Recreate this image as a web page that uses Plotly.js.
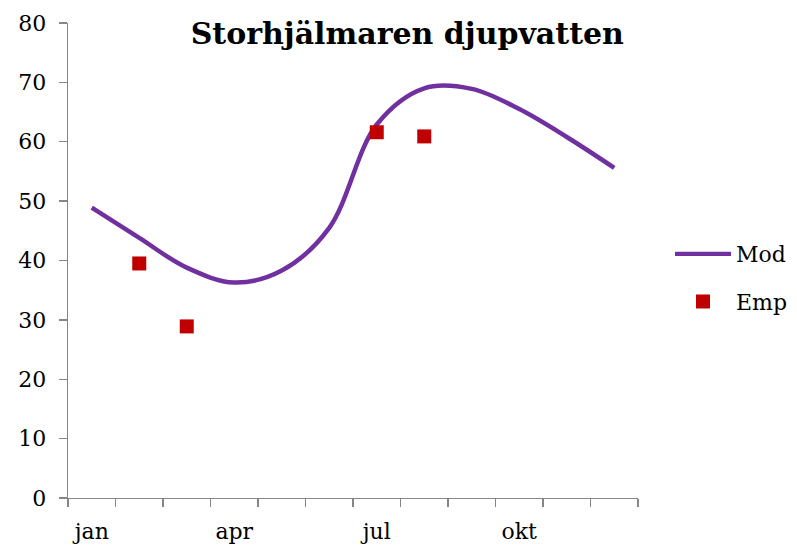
<!DOCTYPE html>
<html>
<head>
<meta charset="utf-8">
<script src="https://cdn.plot.ly/plotly-3.0.1.min.js"></script>
<style>html,body{margin:0;padding:0;background:#fff;}#chart{width:797px;height:552px;}</style>
</head>
<body>
<div id="chart"></div>
<script>
// Data
const months = ['jan','feb','mar','apr','maj','jun','jul','aug','sep','okt','nov','dec'];
const monthIndex = [1,2,3,4,5,6,7,8,9,10,11,12];
const modValues = [48.9, 43.8, 38.8, 36.3, 38.3, 45.5, 62.9, 69.0, 68.9, 65.5, 60.8, 55.6];
const empMonths = [2, 3, 7, 8];
const empValues = [39.5, 28.9, 61.6, 60.9];
const yTicks = [0,10,20,30,40,50,60,70,80];
const labelMonths = [1,4,7,10];

const serif = '"DejaVu Serif", "Liberation Serif", serif';

const traces = [
  {
    x: monthIndex, y: modValues, name: 'Mod', type: 'scatter', mode: 'lines',
    line: {color: '#7030A0', width: 4.5, shape: 'spline', smoothing: 1},
    legendgroup: 'mod', xaxis: 'x', yaxis: 'y'
  },
  {
    x: empMonths, y: empValues, name: 'Emp', type: 'scatter', mode: 'markers',
    marker: {symbol: 'square', color: '#C00000', size: 14},
    legendgroup: 'emp', xaxis: 'x', yaxis: 'y'
  },
  {
    x: labelMonths, y: labelMonths.map(() => null), type: 'scatter', mode: 'markers',
    showlegend: false, hoverinfo: 'skip', xaxis: 'x2', yaxis: 'y'
  }
];

const boundaries = [0.5].concat(monthIndex.map(m => m + 0.5));

const layout = {
  width: 797, height: 552,
  paper_bgcolor: '#fff', plot_bgcolor: '#fff',
  margin: {l: 68, r: 0, t: 23, b: 54, pad: 0},
  font: {family: serif, color: '#000', size: 21},
  title: {
    text: '<b>Storhjälmaren djupvatten</b>',
    font: {family: '"DejaVu Serif", serif', size: 30, color: '#000'},
    x: 0.511, xanchor: 'center', xref: 'container',
    y: 0.94, yanchor: 'middle', yref: 'container'
  },
  xaxis: {
    domain: [0, 570/729],
    range: [0.5, 12.5], tickmode: 'array', tickvals: boundaries, showticklabels: false,
    ticks: 'outside', ticklen: 8, tickcolor: '#868686', tickwidth: 1.3,
    showline: true, linecolor: '#868686', linewidth: 1.3,
    showgrid: false, zeroline: false, fixedrange: true
  },
  xaxis2: {
    domain: [0, 570/729],
    overlaying: 'x', matches: 'x', side: 'bottom',
    tickmode: 'array', tickvals: labelMonths, ticktext: labelMonths.map(m => months[m-1]),
    ticks: 'outside', ticklen: 14, tickcolor: 'rgba(0,0,0,0)',
    showline: false, showgrid: false, zeroline: false,
    tickfont: {family: serif, size: 22, color: '#000'}
  },
  yaxis: {
    range: [0, 80], tickmode: 'array', tickvals: yTicks,
    ticks: 'outside', ticklen: 8, tickcolor: '#868686', tickwidth: 1.3,
    showline: true, linecolor: '#868686', linewidth: 1.3,
    showgrid: false, zeroline: false, ticklabelstandoff: 8,
    tickfont: {family: serif, size: 22, color: '#000'}
  },
  showlegend: true,
  legend: {
    x: (670 - 68) / 729, xanchor: 'left', y: 0.463, yanchor: 'middle',
    font: {family: serif, size: 22, color: '#000'},
    itemwidth: 56, traceorder: 'grouped', tracegroupgap: 16, bgcolor: 'rgba(0,0,0,0)'
  }
};

Plotly.newPlot('chart', traces, layout, {displayModeBar: false, staticPlot: true});
</script>
</body>
</html>
